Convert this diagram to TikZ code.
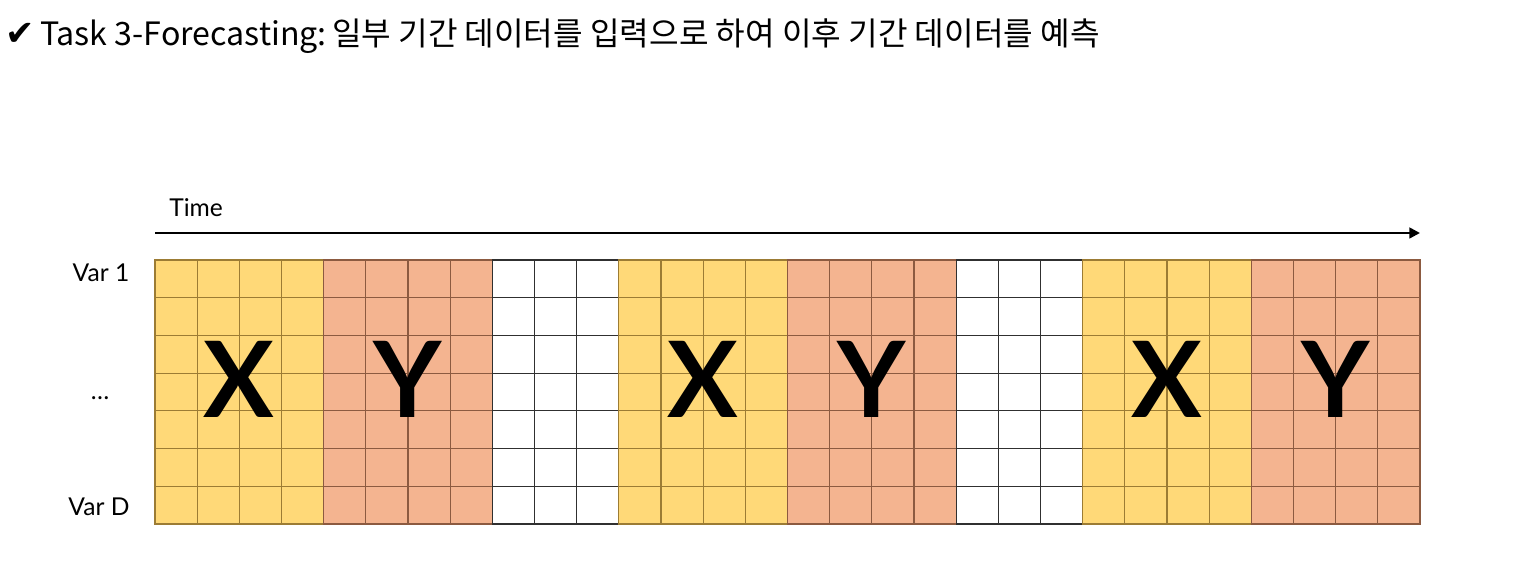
\documentclass[tikz,border=0pt]{standalone}
\usepackage{fontspec}
\setmainfont{Lato}
\newfontfamily\krfont{Noto Sans CJK KR}
\newfontfamily\symfont{DejaVu Sans}
\usetikzlibrary{arrows.meta}
\definecolor{inputfill}{HTML}{FFD978}
\definecolor{inputline}{HTML}{9C7C34}
\definecolor{targetfill}{HTML}{F4B490}
\definecolor{targetline}{HTML}{8C5A40}
\definecolor{emptyline}{HTML}{303030}
\tikzset{
  cellline/.style={line width=0.6pt},
  varlabel/.style={font=\fontsize{14}{16}\selectfont, inner sep=0pt},
  bigletter/.style={font=\fontsize{60}{62}\selectfont\bfseries, inner sep=0pt},
  timearrow/.style={line width=1.4pt, -{Triangle[length=6pt,width=6pt]}}
}
\begin{document}
\begin{tikzpicture}[x=0.02cm,y=-0.02cm]
  \useasboundingbox (0,0) rectangle (1531,570);
  % title
  \node[anchor=base west, inner sep=0pt, font=\fontsize{18.3}{20}\selectfont] (title) at (5,46)
    {{\symfont\fontsize{20}{20}\selectfont ✔}\,\krfont Task 3-Forecasting:\,일부 기간 데이터를 입력으로 하여 이후 기간 데이터를 예측};
  % time axis
  \node[anchor=base west, varlabel] (time) at (169,217) {Time};
  \coordinate (tstart) at (155,233);
  \coordinate (tend) at (1420,233);
  \draw[timearrow] (tstart) -- (tend);
  % blocks of the grid: first column/number of columns/fill/line/letter
  \foreach \s/\n/\f/\l/\t in {0/4/inputfill/inputline/X, 4/4/targetfill/targetline/Y,
      8/3/white/emptyline/{}, 11/4/inputfill/inputline/X, 15/4/targetfill/targetline/Y,
      19/3/white/emptyline/{}, 22/4/inputfill/inputline/X, 26/4/targetfill/targetline/Y}
  {
    \pgfmathsetmacro\xa{155+\s*42.1667}
    \pgfmathsetmacro\xb{155+(\s+\n)*42.1667}
    \pgfmathtruncatemacro\m{\n-1}
    \fill[\f] (\xa,260) rectangle (\xb,524);
    \foreach \r in {1,...,6}
      \draw[cellline, \l] (\xa,{260+\r*37.714}) -- (\xb,{260+\r*37.714});
    \foreach \c in {1,...,\m}
      \draw[cellline, \l] ({\xa+\c*42.1667},260) -- ({\xa+\c*42.1667},524);
    \draw[cellline, \l] (\xa,260) rectangle (\xb,524);
    \node[bigletter] (blk\s) at ({(\xa+\xb)/2},379) {\t};
  }
  % variable labels
  \node[varlabel] (var1) at (101,273) {Var 1};
  \node[varlabel] (vardots) at (100,398) {\dots};
  \node[varlabel] (varD) at (99,507) {Var D};
\end{tikzpicture}
\end{document}
